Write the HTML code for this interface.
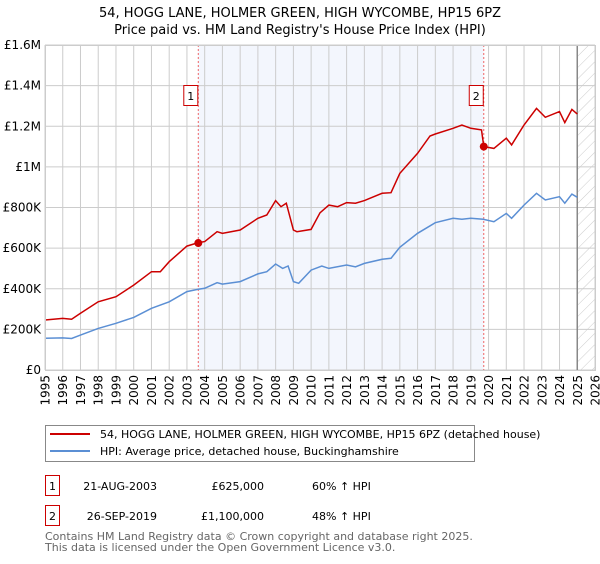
<!DOCTYPE html>
<html><head><meta charset="utf-8">
<style>
body{margin:0;background:#fff;font-family:"DejaVu Sans","Liberation Sans",sans-serif;}
svg text{font-family:"DejaVu Sans","Liberation Sans",sans-serif;}
</style></head>
<body>
<svg id="chart" width="600" height="560" xmlns="http://www.w3.org/2000/svg">
<defs>
<pattern id="hatch" width="8" height="8" patternUnits="userSpaceOnUse" patternTransform="rotate(45)">
<line x1="0" y1="0" x2="0" y2="8" stroke="#ccc" stroke-width="1"/>
</pattern>
</defs>
<text x="300" y="17" text-anchor="middle" font-size="13">54, HOGG LANE, HOLMER GREEN, HIGH WYCOMBE, HP15 6PZ</text>
<text x="300" y="34" text-anchor="middle" font-size="13">Price paid vs. HM Land Registry's House Price Index (HPI)</text>
<g id="plot"></g>
<g>
<rect x="45.5" y="425.5" width="429" height="36" fill="#fff" stroke="#888"/>
<line x1="50" y1="434" x2="90" y2="434" stroke="#cc0000" stroke-width="2"/>
<text x="100" y="438" font-size="11">54, HOGG LANE, HOLMER GREEN, HIGH WYCOMBE, HP15 6PZ (detached house)</text>
<line x1="50" y1="451" x2="90" y2="451" stroke="#5b8fd4" stroke-width="2"/>
<text x="100" y="455" font-size="11">HPI: Average price, detached house, Buckinghamshire</text>
</g>
<g font-size="11">
<rect x="45.5" y="475.5" width="14" height="20" fill="#fff" stroke="#cc0000"/>
<text x="52.5" y="490" text-anchor="middle">1</text>
<text x="157" y="490" text-anchor="end">21-AUG-2003</text>
<text x="264" y="490" text-anchor="end">£625,000</text>
<text x="312" y="490">60% ↑ HPI</text>
<rect x="45.5" y="505.5" width="14" height="20" fill="#fff" stroke="#cc0000"/>
<text x="52.5" y="520" text-anchor="middle">2</text>
<text x="157" y="520" text-anchor="end">26-SEP-2019</text>
<text x="264" y="520" text-anchor="end">£1,100,000</text>
<text x="312" y="520">48% ↑ HPI</text>
</g>
<text x="45" y="540" font-size="11" fill="#666">Contains HM Land Registry data © Crown copyright and database right 2025.</text>
<text x="45" y="551" font-size="11" fill="#666">This data is licensed under the Open Government Licence v3.0.</text>
</svg>
<script>
const yearTicks=[1995,1996,1997,1998,1999,2000,2001,2002,2003,2004,2005,2006,2007,2008,2009,2010,2011,2012,2013,2014,2015,2016,2017,2018,2019,2020,2021,2022,2023,2024,2025,2026];
const valueTicks=[0,200000,400000,600000,800000,1000000,1200000,1400000,1600000];
const valueTickLabels=["£0","£200K","£400K","£600K","£800K","£1M","£1.2M","£1.4M","£1.6M"];
const hpiYears=[1995,1996,1996.5,1997,1998,1999,2000,2001,2002,2003,2003.6,2004,2004.7,2005,2006,2007,2007.5,2008,2008.4,2008.7,2009,2009.3,2010,2010.6,2011,2012,2012.5,2013,2014,2014.5,2015,2016,2017,2018,2018.5,2019,2019.7,2020.3,2021,2021.3,2022,2022.7,2023.2,2024,2024.3,2024.7,2025];
const hpiValues=[156,158,155,172,205,230,259,304,336,386,397,402,430,423,435,473,484,522,500,512,435,427,492,512,500,517,508,525,545,550,604,673,725,747,742,747,742,730,771,747,812,870,837,853,821,866,850];
const priceYears=[1995,1996,1996.5,1997,1998,1999,2000,2001,2001.5,2002,2003,2003.64,2004,2004.7,2005,2006,2007,2007.5,2008,2008.3,2008.6,2009,2009.2,2010,2010.5,2011,2011.5,2012,2012.5,2013,2014,2014.5,2015,2016,2016.7,2017,2018,2018.5,2019,2019.6,2019.73,2020.3,2021,2021.3,2022,2022.7,2023.2,2024,2024.3,2024.7,2025];
const priceValues=[246,254,250,279,336,361,418,484,484,533,610,627,632,681,673,689,747,763,834,804,821,689,681,692,774,812,804,824,821,834,870,873,968,1067,1152,1162,1190,1206,1190,1182,1100,1091,1141,1108,1206,1288,1244,1272,1218,1283,1260];
const saleYears=[2003.64,2019.73];
const saleValues=[625000,1100000];
const saleLabels=["1","2"];

const X0=45,X1=595,Y0=370,Y1=45;
const x=y=>X0+(y-1995)/(2026-1995)*(X1-X0);
const yv=v=>Y0-v/1600000*(Y0-Y1);
const NS="http://www.w3.org/2000/svg";
const plot=document.getElementById('plot');
function mk(t,a,p){const e=document.createElementNS(NS,t);for(const k in a)e.setAttribute(k,a[k]);(p||plot).appendChild(e);return e;}

let sh=mk('rect',{x:x(saleYears[0]),y:Y1,width:x(saleYears[1])-x(saleYears[0]),height:Y0-Y1,fill:'#f3f6fd'});


let ht=mk('rect',{x:x(2025),y:Y1,width:X1-x(2025),height:Y0-Y1,fill:'url(#hatch)'});



yearTicks.forEach(t=>{
  const l=mk('line',{x1:x(t),x2:x(t),y1:Y1,y2:Y0,stroke:'#cccccc','stroke-width':1});
  
  
  const px=x(t)+4.5, py=Y0+5;
  const tx=mk('text',{x:px,y:py,'text-anchor':'end','font-size':12,transform:'rotate(-90 '+px+' '+py+')'});
  tx.textContent=t;
  
  
});
valueTicks.forEach((v,i)=>{
  const l=mk('line',{x1:X0,x2:X1,y1:yv(v),y2:yv(v),stroke:'#cccccc','stroke-width':1});
  
  
  const tx=mk('text',{x:X0-4,y:yv(v)+4,'text-anchor':'end','font-size':12});
  tx.textContent=valueTickLabels[i];
  
  
});
let nl=mk('line',{x1:x(2025),x2:x(2025),y1:Y1,y2:Y0,stroke:'#888','stroke-width':1.5});



saleYears.forEach((s,i)=>{
  const l=mk('line',{x1:x(s),x2:x(s),y1:Y1,y2:Y0,stroke:'#e66','stroke-width':1,'stroke-dasharray':'2,2'});
  
  
  const b=mk('rect',{x:x(s)-14.5,y:85.5,width:14,height:20,fill:'#fff',stroke:'#cc0000'});
  
  
  const t=mk('text',{x:x(s)-7.5,y:100,'text-anchor':'middle','font-size':11});
  t.textContent=saleLabels[i];
  
  
});

function path(xs,vs){return xs.map((t,i)=>(i?'L':'M')+x(t).toFixed(1)+','+yv(vs[i]*1000).toFixed(1)).join('');}
let hp=mk('path',{d:path(hpiYears,hpiValues),fill:'none',stroke:'#5b8fd4','stroke-width':1.5});


let pp=mk('path',{d:path(priceYears,priceValues),fill:'none',stroke:'#cc0000','stroke-width':1.5});


saleYears.forEach((s,i)=>{
  const c=mk('circle',{cx:x(s),cy:yv(saleValues[i]),r:4,fill:'#cc0000'});
  
  
});
let fr=mk('rect',{x:X0+0.5,y:Y1+0.5,width:X1-X0,height:Y0-Y1,fill:'none',stroke:'#ccc'});


</script>
</body></html>
